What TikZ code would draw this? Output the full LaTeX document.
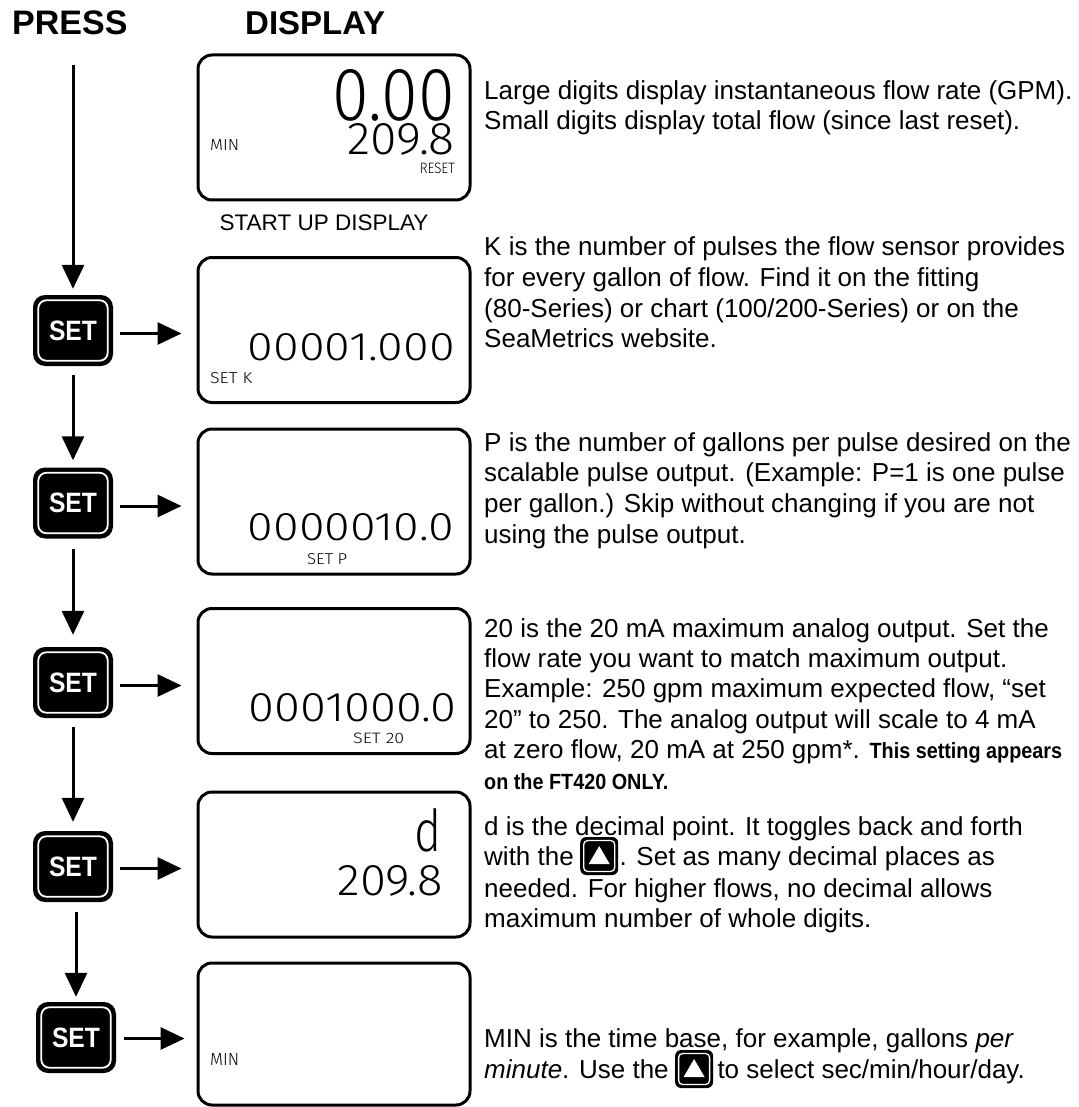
\documentclass[tikz,border=0pt]{standalone}
\usepackage{graphicx}
\usepackage{fontspec}
\setmainfont{Liberation Sans}
\usetikzlibrary{arrows.meta,calc}
\IfFontExistsTF{Fira Sans Light}{\newfontfamily\lcdfont{Fira Sans Light}}{\newfontfamily\lcdfont{DejaVu Sans}}
\newcommand\lcdtxt[3]{\resizebox{#1pt}{#2pt}{\lcdfont #3}}
\tikzset{
  disp/.style={draw=black, line width=3pt, rounded corners=14pt, minimum width=272pt, minimum height=145pt, inner sep=0pt},
  setbtn/.style={fill=black, rounded corners=12pt, minimum width=80pt, minimum height=71pt, inner sep=0pt, text=white, font=\fontsize{28}{28}\bfseries\selectfont},
  btnframe/.style={draw=white, line width=1.8pt, rounded corners=8pt},
  flow/.style={line width=3pt, -{Triangle[length=24pt,width=22pt]}},
  lcdl/.style={inner sep=0pt, anchor=base west},
  lcdr/.style={inner sep=0pt, anchor=base east},
  body/.style={inner sep=0pt, anchor=base west, font=\fontsize{26}{30}\selectfont},
  head/.style={inner sep=0pt, anchor=base west, font=\fontsize{34}{34}\bfseries\selectfont},
  keybox/.style={fill=black, rounded corners=6pt, minimum width=38pt, minimum height=38pt, inner sep=0pt},
  keydeco/.pic={
    \draw[white, line width=1.3pt, rounded corners=4pt] (-15.5,-15.5) rectangle (15.5,15.5);
    \fill[white] (0,-10) -- (10.5,8) -- (-10.5,8) -- cycle;
  }
}
\newcommand\boldnote[1]{\scalebox{0.9}[1]{\fontsize{22}{22}\bfseries\selectfont #1}}
\begin{document}
\begin{tikzpicture}[x=1pt,y=-1pt]
\useasboundingbox (0,0) rectangle (1078,1107);

% headers
\node[head] (hpress) at (12,35) {PRESS};
\node[head, font=\fontsize{33}{33}\bfseries\selectfont] (hdisp) at (245,35) {DISPLAY};

% displays
\node[disp] (d1) at (334,127.5) {};
\node[disp] (d2) at (334,330) {};
\node[disp] (d3) at (334,501.5) {};
\node[disp] (d4) at (334,681) {};
\node[disp] (d5) at (334,864.5) {};
\node[disp, minimum height=142pt] (d6) at (334,1034) {};

\node[inner sep=0pt, anchor=base, font=\fontsize{22.5}{22.5}\selectfont] (startup) at (324,230) {START UP DISPLAY};

% display contents
\node[lcdr] (d1big) at (455,121) {\lcdtxt{122}{51}{0.00}};
\node[lcdr] (d1small) at (455,155) {\lcdtxt{107}{31}{209.8}};
\node[lcdl] (d1min) at (210,151) {\lcdtxt{29}{11}{MIN}};
\node[lcdr] (d1reset) at (455,174) {\lcdtxt{35}{10.5}{RESET}};

\node[lcdr] (d2val) at (455,360) {\lcdtxt{207}{27}{00001.000}};
\node[lcdl] (d2lab) at (210,383) {\lcdtxt{42}{11}{SET K}};

\node[lcdr] (d3val) at (454,540) {\lcdtxt{206}{27}{0000010.0}};
\node[lcdl] (d3lab) at (307,564) {\lcdtxt{40}{11}{SET P}};

\node[lcdr] (d4val) at (457,721) {\lcdtxt{208}{28}{0001000.0}};
\node[lcdl] (d4lab) at (353,743) {\lcdtxt{51}{10.5}{SET 20}};

\node[lcdr] (d5big) at (442,851) {\lcdtxt{27}{43}{d}};
\node[lcdr] (d5small) at (443,895) {\lcdtxt{105}{30}{209.8}};

\node[lcdl] (d6min) at (210,1065) {\lcdtxt{29}{12}{MIN}};

% SET buttons
\node[setbtn] (b1) at (73,330.5) {\scalebox{0.88}[1]{SET}};
\node[setbtn] (b2) at (73,503) {\scalebox{0.88}[1]{SET}};
\node[setbtn] (b3) at (73,682.5) {\scalebox{0.88}[1]{SET}};
\node[setbtn] (b4) at (73,866.5) {\scalebox{0.88}[1]{SET}};
\node[setbtn] (b5) at (76,1037.5) {\scalebox{0.88}[1]{SET}};
\foreach \b in {b1,b2,b3,b4,b5}{
  \draw[btnframe] ($(\b.south west)+(5.5,-5.5)$) rectangle ($(\b.north east)+(-5.5,5.5)$);
}

% vertical flow arrows
\coordinate (start) at (73,65);
\draw[flow] (start) -- ($(b1.north)+(0,-6)$);
\draw[flow] ($(b1.south)+(0,9)$) -- ($(b2.north)+(0,-7)$);
\draw[flow] ($(b2.south)+(0,10)$) -- ($(b3.north)+(0,-12)$);
\draw[flow] ($(b3.south)+(0,9)$) -- ($(b4.north)+(0,-9)$);
\draw[flow] ($(b4.south -| b5)+(0,10)$) -- ($(b5.north)+(0,-5)$);

% horizontal arrows to displays
\draw[flow] ($(b1.east)+(7,3)$) -- ($(b1.east -| d2.west)+(-15,3)$);
\draw[flow] ($(b2.east)+(7,3)$) -- ($(b2.east -| d3.west)+(-15,3)$);
\draw[flow] ($(b3.east)+(7,3)$) -- ($(b3.east -| d4.west)+(-15,3)$);
\draw[flow] ($(b4.east)+(7,2)$) -- ($(b4.east -| d5.west)+(-15,2)$);
\draw[flow] ($(b5.east)+(8,1)$) -- ($(b5.east -| d6.west)+(-12,1)$);

% descriptions
\node[body] (p1a) at (484,100) {Large digits display instantaneous flow rate (GPM).};
\node[body] (p1b) at (484,130) {Small digits display total flow (since last reset).};

\node[body] (p2a) at (484,255) {K is the number of pulses the flow sensor provides};
\node[body] (p2b) at (484,286) {for every gallon of flow. Find it on the fitting};
\node[body] (p2c) at (484,317) {(80-Series) or chart (100/200-Series) or on the};
\node[body] (p2d) at (484,347) {SeaMetrics website.};

\node[body] (p3a) at (484,451) {P is the number of gallons per pulse desired on the};
\node[body] (p3b) at (484,481) {scalable pulse output. (Example: P=1 is one pulse};
\node[body] (p3c) at (484,512) {per gallon.) Skip without changing if you are not};
\node[body] (p3d) at (484,543) {using the pulse output.};

\node[body] (p4a) at (484,637) {20 is the 20 mA maximum analog output. Set the};
\node[body] (p4b) at (484,667) {flow rate you want to match maximum output.};
\node[body] (p4c) at (484,697) {Example: 250 gpm maximum expected flow, “set};
\node[body] (p4d) at (484,728) {20” to 250. The analog output will scale to 4 mA};
\node[body] (p4e) at (484,758) {at zero flow, 20 mA at 250 gpm*. \boldnote{This setting appears}};
\node[body] (p4f) at (484,789) {\boldnote{on the FT420 ONLY.}};

\node[body] (p5a) at (484,835) {d is the decimal point. It toggles back and forth};
\node[body] (p5b) at (484,865) {with the};
\node[keybox, anchor=west] (k1) at ($(p5b.base east)+(6,-9)$) {};
\pic at (k1.center) {keydeco};
\node[body] (p5c) at ($(k1.east |- p5b.base)+(1,0)$) {. Set as many decimal places as};
\node[body] (p5d) at (484,897) {needed. For higher flows, no decimal allows};
\node[body] (p5e) at (484,927) {maximum number of whole digits.};

\node[body] (p6a) at (484,1047) {MIN is the time base, for example, gallons \textit{per}};
\node[body] (p6b) at (484,1078) {\textit{minute}. Use the};
\node[keybox, anchor=west] (k2) at ($(p6b.base east)+(6,-9)$) {};
\pic at (k2.center) {keydeco};
\node[body] (p6c) at ($(k2.east |- p6b.base)+(4,0)$) {to select sec/min/hour/day.};
\end{tikzpicture}
\end{document}
